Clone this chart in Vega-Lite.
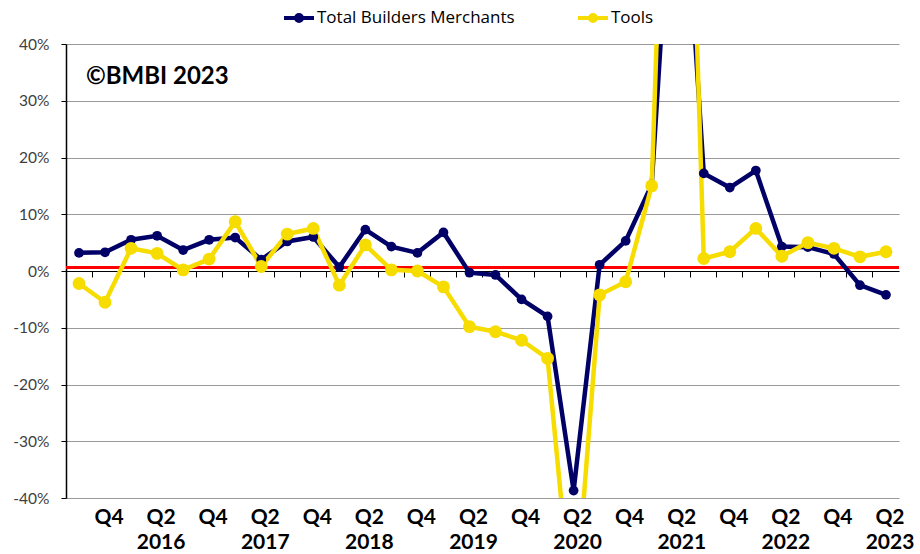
{
  "$schema": "https://vega.github.io/schema/vega-lite/v6.json",
  "width": 833,
  "height": 454,
  "autosize": {"type": "none"},
  "padding": {"left": 66, "top": 44, "right": 21, "bottom": 56},
  "background": "white",
  "config": {"view": {"stroke": null}, "font": "Lato"},
  "datasets": {
    "series": [
      {"q": "2015-Q3", "s": "Total Builders Merchants", "v": 3.2}, {"q": "2015-Q3", "s": "Tools", "v": -2.2},
      {"q": "2015-Q4", "s": "Total Builders Merchants", "v": 3.3}, {"q": "2015-Q4", "s": "Tools", "v": -5.5},
      {"q": "2016-Q1", "s": "Total Builders Merchants", "v": 5.5}, {"q": "2016-Q1", "s": "Tools", "v": 4.0},
      {"q": "2016-Q2", "s": "Total Builders Merchants", "v": 6.2}, {"q": "2016-Q2", "s": "Tools", "v": 3.1},
      {"q": "2016-Q3", "s": "Total Builders Merchants", "v": 3.7}, {"q": "2016-Q3", "s": "Tools", "v": 0.2},
      {"q": "2016-Q4", "s": "Total Builders Merchants", "v": 5.5}, {"q": "2016-Q4", "s": "Tools", "v": 2.1},
      {"q": "2017-Q1", "s": "Total Builders Merchants", "v": 5.9}, {"q": "2017-Q1", "s": "Tools", "v": 8.7},
      {"q": "2017-Q2", "s": "Total Builders Merchants", "v": 2.0}, {"q": "2017-Q2", "s": "Tools", "v": 0.8},
      {"q": "2017-Q3", "s": "Total Builders Merchants", "v": 5.2}, {"q": "2017-Q3", "s": "Tools", "v": 6.5},
      {"q": "2017-Q4", "s": "Total Builders Merchants", "v": 6.0}, {"q": "2017-Q4", "s": "Tools", "v": 7.5},
      {"q": "2018-Q1", "s": "Total Builders Merchants", "v": 0.7}, {"q": "2018-Q1", "s": "Tools", "v": -2.5},
      {"q": "2018-Q2", "s": "Total Builders Merchants", "v": 7.3}, {"q": "2018-Q2", "s": "Tools", "v": 4.6},
      {"q": "2018-Q3", "s": "Total Builders Merchants", "v": 4.3}, {"q": "2018-Q3", "s": "Tools", "v": 0.2},
      {"q": "2018-Q4", "s": "Total Builders Merchants", "v": 3.2}, {"q": "2018-Q4", "s": "Tools", "v": 0.0},
      {"q": "2019-Q1", "s": "Total Builders Merchants", "v": 6.8}, {"q": "2019-Q1", "s": "Tools", "v": -2.8},
      {"q": "2019-Q2", "s": "Total Builders Merchants", "v": -0.3}, {"q": "2019-Q2", "s": "Tools", "v": -9.8},
      {"q": "2019-Q3", "s": "Total Builders Merchants", "v": -0.7}, {"q": "2019-Q3", "s": "Tools", "v": -10.7},
      {"q": "2019-Q4", "s": "Total Builders Merchants", "v": -5.0}, {"q": "2019-Q4", "s": "Tools", "v": -12.2},
      {"q": "2020-Q1", "s": "Total Builders Merchants", "v": -8.0}, {"q": "2020-Q1", "s": "Tools", "v": -15.4},
      {"q": "2020-Q2", "s": "Total Builders Merchants", "v": -38.7}, {"q": "2020-Q2", "s": "Tools", "v": -63},
      {"q": "2020-Q3", "s": "Total Builders Merchants", "v": 1.1}, {"q": "2020-Q3", "s": "Tools", "v": -4.2},
      {"q": "2020-Q4", "s": "Total Builders Merchants", "v": 5.3}, {"q": "2020-Q4", "s": "Tools", "v": -1.9},
      {"q": "2021-Q1", "s": "Total Builders Merchants", "v": 15.2}, {"q": "2021-Q1", "s": "Tools", "v": 15.0},
      {"q": "2021-Q2", "s": "Total Builders Merchants", "v": 88}, {"q": "2021-Q2", "s": "Tools", "v": 150},
      {"q": "2021-Q3", "s": "Total Builders Merchants", "v": 17.2}, {"q": "2021-Q3", "s": "Tools", "v": 2.2},
      {"q": "2021-Q4", "s": "Total Builders Merchants", "v": 14.7}, {"q": "2021-Q4", "s": "Tools", "v": 3.4},
      {"q": "2022-Q1", "s": "Total Builders Merchants", "v": 17.7}, {"q": "2022-Q1", "s": "Tools", "v": 7.5},
      {"q": "2022-Q2", "s": "Total Builders Merchants", "v": 4.3}, {"q": "2022-Q2", "s": "Tools", "v": 2.6},
      {"q": "2022-Q3", "s": "Total Builders Merchants", "v": 4.2}, {"q": "2022-Q3", "s": "Tools", "v": 5.0},
      {"q": "2022-Q4", "s": "Total Builders Merchants", "v": 3.0}, {"q": "2022-Q4", "s": "Tools", "v": 4.0},
      {"q": "2023-Q1", "s": "Total Builders Merchants", "v": -2.5}, {"q": "2023-Q1", "s": "Tools", "v": 2.5},
      {"q": "2023-Q2", "s": "Total Builders Merchants", "v": -4.2}, {"q": "2023-Q2", "s": "Tools", "v": 3.4}
    ],
    "ref": [{"level": 0.6}],
    "note": [{"q": "2015-Q3", "y": 34.2, "label": "©BMBI 2023"}]
  },
  "layer": [
    {
      "data": {"name": "ref"},
      "mark": {"type": "rule", "color": "#FF0000", "strokeWidth": 3},
      "encoding": {
        "y": {"field": "level", "type": "quantitative", "scale": {"domain": [-40, 40], "nice": false},
              "axis": {"values": [-40, -30, -20, -10, 0, 10, 20, 30, 40], "labelExpr": "datum.value + '%'",
                   "title": null, "grid": true, "gridColor": "#9A9A9A", "gridWidth": 1,
                   "domainColor": "#000000", "domainWidth": 1.5, "tickColor": "#000000", "tickSize": 5,
                   "labelPadding": 12, "labelFont": "Lato", "labelFontSize": 15.5, "labelColor": "#404040"}}
      }
    },
    {
      "data": {"name": "series"},
      "mark": {"type": "line", "strokeWidth": 4.5, "clip": true},
      "encoding": {
        "x": {
          "field": "q", "type": "ordinal", "sort": null,
          "scale": {"type": "band", "paddingInner": 0, "paddingOuter": 0},
          "axis": {"orient": "bottom", "offset": -227, "labels": false, "title": null, "grid": false,
                   "domain": true, "domainColor": "#000000", "domainWidth": 1,
                   "ticks": true, "tickColor": "#000000", "tickSize": 6, "tickWidth": 1, "bandPosition": 0}
        },
        "y": {
          "field": "v", "type": "quantitative",
          "scale": {"domain": [-40, 40], "nice": false},
          "axis": {"values": [-40, -30, -20, -10, 0, 10, 20, 30, 40], "labelExpr": "datum.value + '%'",
                   "title": null, "grid": true, "gridColor": "#9A9A9A", "gridWidth": 1,
                   "domainColor": "#000000", "domainWidth": 1.5, "tickColor": "#000000", "tickSize": 5,
                   "labelPadding": 12, "labelFont": "Lato", "labelFontSize": 15.5, "labelColor": "#404040"}
        },
        "color": {
          "field": "s", "type": "nominal",
          "scale": {"domain": ["Total Builders Merchants", "Tools"], "range": ["#000066", "#F7DC00"]},
          "legend": {
            "orient": "none", "legendX": 216, "legendY": -43, "direction": "horizontal", "title": null,
            "symbolType": "M-1,0L1,0M0.2,0A0.2,0.2,0,1,1,-0.2,0A0.2,0.2,0,1,1,0.2,0Z",
            "symbolSize": 900, "symbolStrokeWidth": 4, "labelFontSize": 17, "labelFont": "Open Sans",
            "labelColor": "#000000", "columnPadding": 55, "labelOffset": 1, "padding": 0, "labelLimit": 400,
            "encode": {"symbols": {"update": {"fill": {"scale": "color", "field": "value"}}}}
          }
        }
      }
    },
    {
      "data": {"name": "series"},
      "transform": [{"filter": "datum.s === 'Total Builders Merchants'"}],
      "mark": {"type": "point", "filled": true, "opacity": 1, "clip": true, "size": 95},
      "encoding": {
        "x": {"field": "q", "type": "ordinal", "sort": null, "axis": null,
              "scale": {"type": "band", "paddingInner": 0, "paddingOuter": 0}},
        "y": {"field": "v", "type": "quantitative", "scale": {"domain": [-40, 40], "nice": false}},
        "color": {"field": "s", "type": "nominal", "legend": null}
      }
    },
    {
      "data": {"name": "series"},
      "transform": [{"filter": "datum.s === 'Tools'"}],
      "mark": {"type": "point", "filled": true, "opacity": 1, "clip": true, "size": 165},
      "encoding": {
        "x": {
          "field": "q", "type": "ordinal", "sort": null,
          "scale": {"type": "band", "paddingInner": 0, "paddingOuter": 0},
          "axis": {"orient": "bottom", "title": null, "grid": false, "domain": false, "ticks": false,
                   "labelAngle": 0, "labelPadding": 8, "labelOffset": 4, "labelFont": "Lato", "labelFontSize": 21,
                   "labelFontWeight": "bold", "labelColor": "#000000", "labelLineHeight": 25, "labelBaseline": "top",
                   "labelOverlap": false,
                   "labelExpr": "indexof(datum.value, 'Q4') >= 0 ? ['Q4'] : (indexof(datum.value, 'Q2') >= 0 ? ['Q2', slice(datum.value, 0, 4)] : '')"}
        },
        "y": {"field": "v", "type": "quantitative", "scale": {"domain": [-40, 40], "nice": false}},
        "color": {"field": "s", "type": "nominal", "legend": null}
      }
    },
    {
      "data": {"name": "note"},
      "mark": {"type": "text", "align": "left", "baseline": "middle", "dx": 7, "fontSize": 24, "fontWeight": "bold", "font": "Lato", "color": "#000000"},
      "encoding": {
        "x": {"field": "q", "type": "ordinal", "sort": null, "axis": null},
        "y": {"field": "y", "type": "quantitative", "scale": {"domain": [-40, 40], "nice": false}},
        "text": {"field": "label"}
      }
    }
  ],
  "resolve": {"axis": {"x": "independent"}}
}
